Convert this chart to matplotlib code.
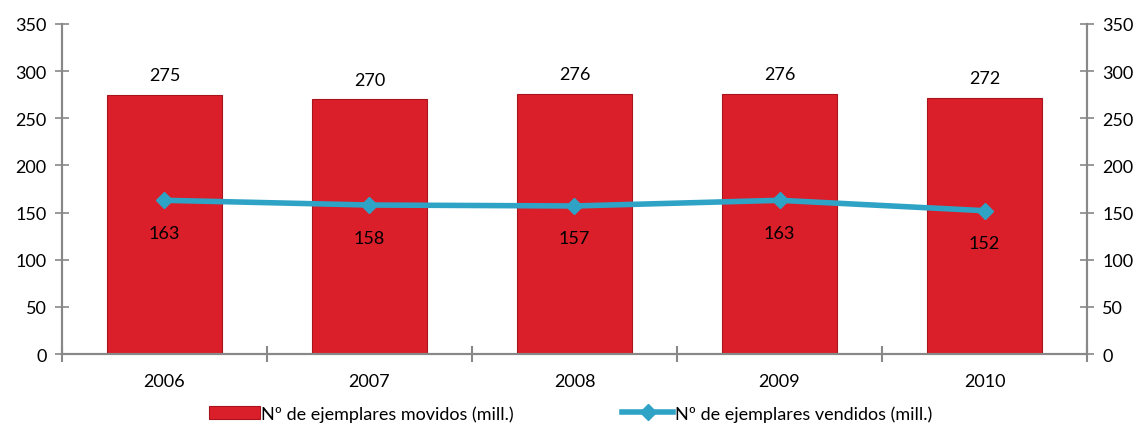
import matplotlib.pyplot as plt
import numpy as np

years = ['2006', '2007', '2008', '2009', '2010']
movidos = [275, 270, 276, 276, 272]
vendidos = [163, 158, 157, 163, 152]

plt.rcParams['font.family'] = ['Lato', 'DejaVu Sans']

fig = plt.figure(figsize=(11.41, 4.27), dpi=100)
ax = fig.add_axes([0.0543, 0.1686, 0.8984, 0.7729])
x = np.arange(len(years))

bars = ax.bar(x, movidos, width=0.56, color='#DA1F2A', edgecolor='#A8141C', linewidth=0.8,
              label='N\u00ba de ejemplares movidos (mill.)', zorder=2)
line, = ax.plot(x, vendidos, color='#2EA3C6', linewidth=4, marker='D', markersize=8,
                label='N\u00ba de ejemplares vendidos (mill.)', zorder=3)

for xi, v in zip(x, movidos):
    ax.text(xi, v + 12, str(v), ha='center', va='bottom', fontsize=13)
for xi, v in zip(x, vendidos):
    ax.text(xi, v - 26, str(v), ha='center', va='top', fontsize=13)

ax.set_xlim(-0.5, len(years) - 0.5)
ax.set_ylim(0, 350)
ax.set_yticks(range(0, 351, 50))
ax.set_xticks(np.arange(-0.5, len(years), 1.0))
ax.set_xticklabels([])
ax.set_xticks(x, minor=True)
ax.set_xticklabels(years, minor=True)
ax.tick_params(axis='x', which='minor', length=0, pad=14, labelsize=13)
ax.tick_params(axis='x', which='major', direction='inout', length=12, color='#888888', width=1.5)
ax.tick_params(axis='y', direction='inout', length=10, color='#888888', width=1.2,
               labelsize=13, pad=6)

ax2 = ax.twinx()
ax2.set_ylim(0, 350)
ax2.set_yticks(range(0, 351, 50))
ax2.tick_params(axis='y', direction='inout', length=10, color='#888888', width=1.2,
                labelsize=13, pad=6)

for a in (ax, ax2):
    a.spines['top'].set_visible(False)
    for s in ('left', 'right', 'bottom'):
        a.spines[s].set_color('#888888')
        a.spines[s].set_linewidth(1.5)

fig.legend([bars, line], [bars.get_label(), line.get_label()], loc='lower center',
           bbox_to_anchor=(0.5, -0.028), ncol=2, frameon=False,
           fontsize=13, handlelength=2.8, handletextpad=0.1, columnspacing=6)

fig.savefig('out.png', dpi=100)
